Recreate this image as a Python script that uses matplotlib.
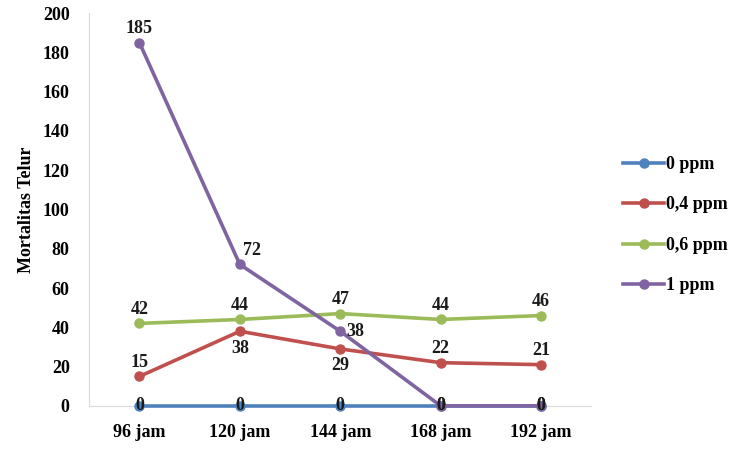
import matplotlib.pyplot as plt

categories = ["96 jam", "120 jam", "144 jam", "168 jam", "192 jam"]
series_names = ["0 ppm", "0,4 ppm", "0,6 ppm", "1 ppm"]
ppm_0 = [0, 0, 0, 0, 0]
ppm_04 = [15, 38, 29, 22, 21]
ppm_06 = [42, 44, 47, 44, 46]
ppm_1 = [185, 72, 38, 0, 0]
colors = ["#4F81BD", "#C0504D", "#9BBB59", "#8064A2"]

# label placement per point: "above", "below", "right", "center"
label_pos = {
    "0 ppm": ["center"] * 5,
    "0,4 ppm": ["above", "below", "below", "above", "above"],
    "0,6 ppm": ["above"] * 5,
    "1 ppm": ["above", "upright", "right", "center", "center"],
}

plt.rcParams["font.family"] = ["Liberation Serif", "DejaVu Serif"]
plt.rcParams["font.weight"] = "bold"

fig = plt.figure(figsize=(7.43, 4.5), dpi=100)
ax = fig.add_axes([0.12, 0.098, 0.676, 0.873])

x = list(range(len(categories)))
all_series = [ppm_0, ppm_04, ppm_06, ppm_1]

for name, vals, c in zip(series_names, all_series, colors):
    ax.plot(x, vals, color=c, lw=2.6, marker="o", ms=6.5, label=name,
            clip_on=False, zorder=3)

# data labels (drawn after lines so the 0 labels sit on top)
for name, vals in zip(series_names, all_series):
    for xi, v, pos in zip(x, vals, label_pos[name]):
        if pos == "above":
            off, ha, va = (0, 4), "center", "bottom"
        elif pos == "below":
            off, ha, va = (0, -6), "center", "top"
        elif pos == "right":
            off, ha, va = (4, 0), "left", "center"
        elif pos == "upright":
            off, ha, va = (2, 4), "left", "bottom"
        else:
            off, ha, va = (0, 0), "center", "center"
        ax.annotate(str(v), (xi, v), xytext=off, textcoords="offset points",
                    ha=ha, va=va, fontsize=13, fontweight="bold", color="#1a1a1a",
                    zorder=5)

ax.set_xlim(-0.5, len(categories) - 0.5)
ax.set_ylim(0, 200)
ax.set_yticks(range(0, 201, 20))
ax.set_xticks(x)
ax.set_xticklabels(categories)
ax.tick_params(axis="both", length=0, labelsize=13)
ax.tick_params(axis="x", pad=13)
ax.tick_params(axis="y", pad=14)
ax.set_ylabel("Mortalitas Telur", fontsize=13, fontweight="bold", labelpad=6)

for s in ["top", "right"]:
    ax.spines[s].set_visible(False)
ax.spines["left"].set_color("#D9D9D9")
ax.spines["bottom"].set_color("#D9D9D9")

ax.legend(loc="center left", bbox_to_anchor=(1.03, 0.46), frameon=False,
          fontsize=13, labelspacing=1.3, handlelength=2.3, handletextpad=0.1)

fig.savefig("out.png", dpi=100)
